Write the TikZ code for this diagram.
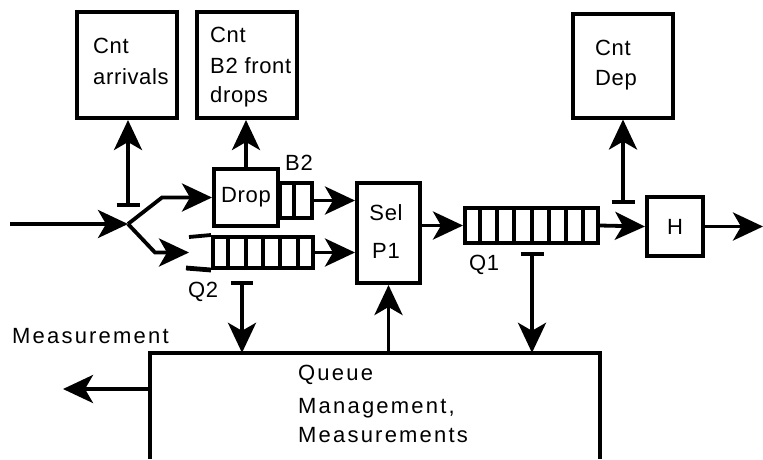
\documentclass[tikz,border=0pt]{standalone}
\usepackage{fontspec}
\setmainfont[LetterSpace=3]{Liberation Sans}
\newfontfamily\widefont[LetterSpace=10]{Liberation Sans}
\usetikzlibrary{arrows.meta,calc}
\begin{document}
\begin{tikzpicture}[x=1pt,y=-1pt,
  box/.style={draw, line width=4pt, inner sep=0pt, font=\fontsize{22}{26}\selectfont},
  conn/.style={line width=3.8pt},
  divider/.style={line width=4pt},
  arr/.style={conn, -{Stealth[length=30pt,width=28pt,inset=8pt]}},
  lbl/.style={anchor=base west, inner sep=0pt, font=\fontsize{22}{26}\selectfont},
  wlbl/.style={anchor=base west, inner sep=0pt, font=\widefont\fontsize{22}{26}\selectfont},
  clbl/.style={anchor=base, inner sep=0pt, font=\fontsize{22}{26}\selectfont}]
\useasboundingbox (0,0) rectangle (763,459);

% upper counter boxes
\node[box, minimum width=100pt, minimum height=106pt] (arr) at (127,65) {};
\node[box, minimum width=100pt, minimum height=106pt] (b2d) at (247,65) {};
\node[box, minimum width=100pt, minimum height=104pt] (dep) at (623,65.5) {};

% processing boxes
\node[box, minimum width=64pt, minimum height=57pt] (drop) at (246,197.5) {Drop};
\node[box, minimum width=63pt, minimum height=100pt] (sel) at (388.5,233) {};
\node[box, minimum width=56pt, minimum height=59pt] (h) at (675,226.5) {H};

% queues
\node[box, minimum width=32pt, minimum height=35pt] (b2) at (296,200.5) {};
\draw[divider] ($(b2.south west)!0.45!(b2.south east)$) -- ($(b2.north west)!0.45!(b2.north east)$);

\node[box, minimum width=100pt, minimum height=31pt] (q2) at (263,252.5) {};
\foreach \i in {1,...,5}
  \draw[divider] ($(q2.south west)!\i/6!(q2.south east)$) -- ($(q2.north west)!\i/6!(q2.north east)$);
\coordinate (q2t) at (189,237);
\coordinate (q2b) at (186,268);
\draw[conn] (q2t) -- (q2.north west);
\draw[line width=4.8pt] (q2b) -- (q2.south west);

\node[box, minimum width=133pt, minimum height=35pt] (q1) at (531.5,225.5) {};
\foreach \i in {1,...,7}
  \draw[divider] ($(q1.south west)!\i/8!(q1.south east)$) -- ($(q1.north west)!\i/8!(q1.north east)$);

% queue management box (open at the bottom)
\node[minimum width=450pt, minimum height=106pt, inner sep=0pt] (qm) at (375,406) {};
\draw[line width=4pt] (qm.south west) -- (qm.north west) -- (qm.north east) -- (qm.south east);

% texts
\node[lbl] (t1) at (93,53) {Cnt};
\node[lbl] (t2) at (93,84) {arrivals};
\node[lbl] (t3) at (210,42) {Cnt};
\node[lbl] (t4) at (210,73) {B2 front};
\node[lbl] (t5) at (210,102) {drops};
\node[lbl] (t6) at (595,55) {Cnt};
\node[lbl] (t7) at (595,85) {Dep};
\node[lbl] (t8) at (285,170) {B2};
\node[clbl] (t9) at (386,220) {Sel};
\node[clbl] (t10) at (386,258) {P1};
\node[lbl] (t11) at (469,270) {Q1};
\node[lbl] (t12) at (188,297) {Q2};
\node[wlbl] (t13) at (12,343) {Measurement};
\node[wlbl] (t14) at (298,380) {Queue};
\node[wlbl] (t15) at (298,413) {Management,};
\node[wlbl] (t16) at (298,442) {Measurements};

% input and branching
\coordinate (in) at (10,224);
\coordinate (j) at (128,224);
\coordinate (jt) at (162,197.5);
\coordinate (jb) at (155,252.5);
\coordinate (q2in) at (189,252.5);
\draw[arr] (in) -- (j);
\draw[arr] (j) -- (jt) -- (drop.west);
\draw[arr] (j) -- (jb) -- (q2in);

% main flow
\draw[arr] (b2.east) -- (sel.west |- b2.east);
\draw[arr] (q2.east) -- (sel.west |- q2.east);
\draw[arr] (sel.east |- q1.west) -- (q1.west);
\draw[arr] (q1.east) -- (h.west);
\coordinate (out) at (763,226.5);
\draw[arr] (h.east) -- (out);

% counters
\draw[arr] (drop.north) -- (drop.north |- b2d.south);
\coordinate (tA) at (128,205);
\draw[conn] ([xshift=-11.5pt]tA) -- ([xshift=11.5pt]tA);
\draw[arr] (tA) -- (tA |- arr.south);
\coordinate (tD) at (623,202);
\draw[conn] ([xshift=-11.5pt]tD) -- ([xshift=11.5pt]tD);
\draw[arr] (tD) -- (tD |- dep.south);

% measurement taps
\coordinate (tQ2) at (242,283);
\draw[conn] ([xshift=-11pt]tQ2) -- ([xshift=11pt]tQ2);
\draw[arr] (tQ2) -- (tQ2 |- qm.north);
\coordinate (tQ1) at (532,254);
\draw[conn] ([xshift=-11.5pt]tQ1) -- ([xshift=11.5pt]tQ1);
\draw[arr] (tQ1) -- (tQ1 |- qm.north);
\draw[arr] (sel.south |- qm.north) -- (sel.south);

% measurement output
\coordinate (mo) at (63,389);
\draw[arr] (qm.west |- mo) -- (mo);
\end{tikzpicture}
\end{document}
